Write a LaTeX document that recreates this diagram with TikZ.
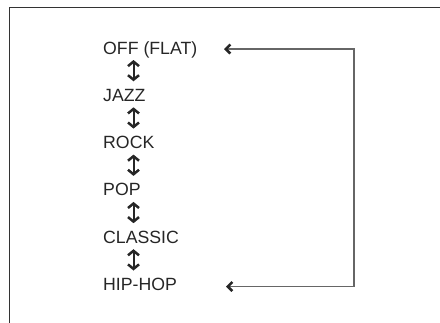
\documentclass[tikz,border=0pt]{standalone}
\usepackage{fontspec}
\setmainfont{Liberation Sans}
\usetikzlibrary{arrows.meta,calc}
\begin{document}
\begin{tikzpicture}[x=1pt,y=-1pt,
  lab/.style={anchor=base west,inner sep=0pt,font=\fontsize{17.7}{20}\selectfont,text=black!85},
  dbl/.style={draw=black!85,line width=2pt,{Straight Barb[length=4.5pt,width=11pt,line width=2.5pt]}-{Straight Barb[length=4.5pt,width=11pt,line width=2.5pt]}},
  loopline/.style={draw=black!60,line width=1.2pt,{Straight Barb[length=4.5pt,width=9pt,line width=2.6pt,color=black!85]}-{Straight Barb[length=4.5pt,width=9pt,line width=2.6pt,color=black!85]}},
  frame/.style={draw=black!80,line width=1pt}]
\useasboundingbox (0,0) rectangle (440,322);
\draw[frame] (9,323) -- (9,7) -- (441,7);
\node[lab] (off) at (103,54) {OFF (FLAT)};
\node[lab] (jazz) at (103,101.3) {JAZZ};
\node[lab] (rock) at (103,148.6) {ROCK};
\node[lab] (pop) at (103,195.9) {POP};
\node[lab] (classic) at (103,243.2) {CLASSIC};
\node[lab] (hiphop) at (103,290.5) {HIP-HOP};
\foreach \a/\b in {off/jazz,jazz/rock,rock/pop,pop/classic,classic/hiphop}
  \draw[dbl] ($(\a.base west)+(30.5,6)$) -- ($(\b.base west)+(30.5,-20)$);
\coordinate (c1) at (354,49);
\coordinate (c2) at (354,286.5);
\draw[loopline] ($(off.base west)+(121,-5)$) -- (c1) -- (c2) -- ($(hiphop.base west)+(123,-4)$);
\end{tikzpicture}
\end{document}
